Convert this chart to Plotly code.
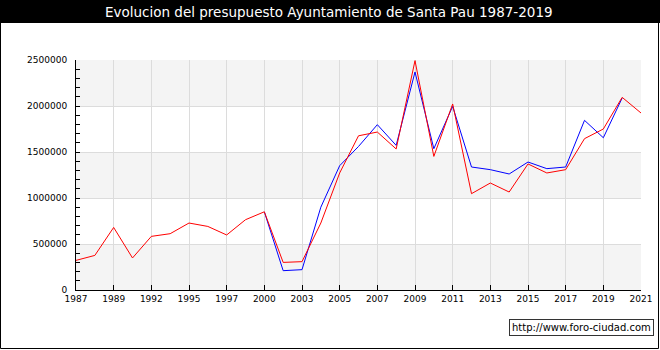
import plotly.graph_objects as go

years = ["1987", "1988", "1989", "1990", "1992", "1993", "1995", "1996", "1997", "1998",
         "2000", "2001", "2003", "2004", "2005", "2006", "2007", "2008", "2009", "2010",
         "2011", "2012", "2013", "2014", "2015", "2016", "2017", "2018", "2019", "2020", "2021"]
tick_years = ["1987", "1989", "1992", "1995", "1997", "2000", "2003", "2005", "2007", "2009",
              "2011", "2013", "2015", "2017", "2019", "2021"]

ingresos = [322000, 376000, 680000, 348000, 583000, 612000, 728000, 691000, 598000, 764000,
            850000, 300000, 308000, 728000, 1272000, 1676000, 1717000, 1533000, 2493000, 1452000,
            2022000, 1047000, 1163000, 1065000, 1370000, 1272000, 1308000, 1645000, 1750000, 2094000,
            1924000]
gastos_years = years[10:30]
gastos = [850000, 210000, 221000, 900000, 1351000, 1560000, 1797000, 1572000, 2370000, 1536000,
          1996000, 1337000, 1308000, 1261000, 1391000, 1319000, 1337000, 1844000, 1655000, 2087000]

W, H = 660, 350
L, R, T, B = 76, 19, 60, 60
PW, PH = W - L - R, H - T - B


def px(x):
    return (x - L) / PW


def py(y):
    return (H - B - y) / PH


fig = go.Figure()
fig.add_trace(go.Scatter(x=gastos_years, y=gastos, mode="lines", name="Gastos",
                         line=dict(color="#0000ff", width=1)))
fig.add_trace(go.Scatter(x=years, y=ingresos, mode="lines", name="Ingresos",
                         line=dict(color="#ff0000", width=1)))

shapes = []
for lo, hi in [(0, 500000), (1000000, 1500000), (2000000, 2500000)]:
    shapes.append(dict(type="rect", xref="paper", yref="y", x0=0, x1=1, y0=lo, y1=hi,
                       fillcolor="#f4f4f4", line=dict(width=0), layer="below"))
# title bar
shapes.append(dict(type="rect", xref="paper", yref="paper", x0=px(0), x1=px(W), y0=py(23), y1=py(0),
                   fillcolor="#000000", line=dict(width=0), layer="above"))
# outer frame
shapes.append(dict(type="rect", xref="paper", yref="paper", x0=px(0.5), x1=px(658.5), y0=py(348.5), y1=py(0.5),
                   fillcolor="rgba(0,0,0,0)", line=dict(color="#000000", width=1), layer="above"))

annotations = [
    dict(text="Evolucion del presupuesto Ayuntamiento de Santa Pau 1987-2019", xref="paper", yref="paper",
         x=px(329), y=py(12), xanchor="center", yanchor="middle", showarrow=False,
         font=dict(family="DejaVu Sans", size=13.5, color="#ffffff")),
    dict(text="http://www.foro-ciudad.com", xref="paper", yref="paper",
         x=px(654), y=py(327), xanchor="right", yanchor="middle", showarrow=False,
         font=dict(family="DejaVu Sans", size=10, color="#000000"),
         bgcolor="#ffffff", bordercolor="#333333", borderwidth=1, borderpad=2),
]

fig.update_layout(
    width=W, height=H,
    margin=dict(l=L, r=R, t=T, b=B, autoexpand=False),
    paper_bgcolor="#ffffff", plot_bgcolor="#ffffff",
    showlegend=False,
    shapes=shapes, annotations=annotations,
    font=dict(family="DejaVu Sans", size=9, color="#000000"),
)
fig.update_xaxes(type="category", categoryorder="array", categoryarray=years,
                 range=[0, len(years) - 1], tickvals=tick_years, ticktext=tick_years,
                 showgrid=True, gridcolor="#dcdcdc", gridwidth=1,
                 showline=True, linecolor="#000000", linewidth=1,
                 ticks="inside", ticklen=5, tickcolor="#000000", automargin=False, zeroline=False,
                 tickfont=dict(family="DejaVu Sans", size=9))
fig.update_yaxes(range=[0, 2500000], dtick=500000, tickformat="d",
                 showgrid=True, gridcolor="#dcdcdc", gridwidth=1,
                 showline=True, linecolor="#000000", linewidth=1, zeroline=False,
                 ticks="inside", ticklen=4, tickcolor="#000000", automargin=False,
                 minor=dict(dtick=100000, ticks="inside", ticklen=4, tickcolor="#000000", showgrid=False),
                 ticklabelstandoff=6,
                 tickfont=dict(family="DejaVu Sans", size=9))

fig.write_html("out.html", config={"displayModeBar": False},
               post_script="document.body.style.margin='0';document.body.style.overflow='hidden';")
